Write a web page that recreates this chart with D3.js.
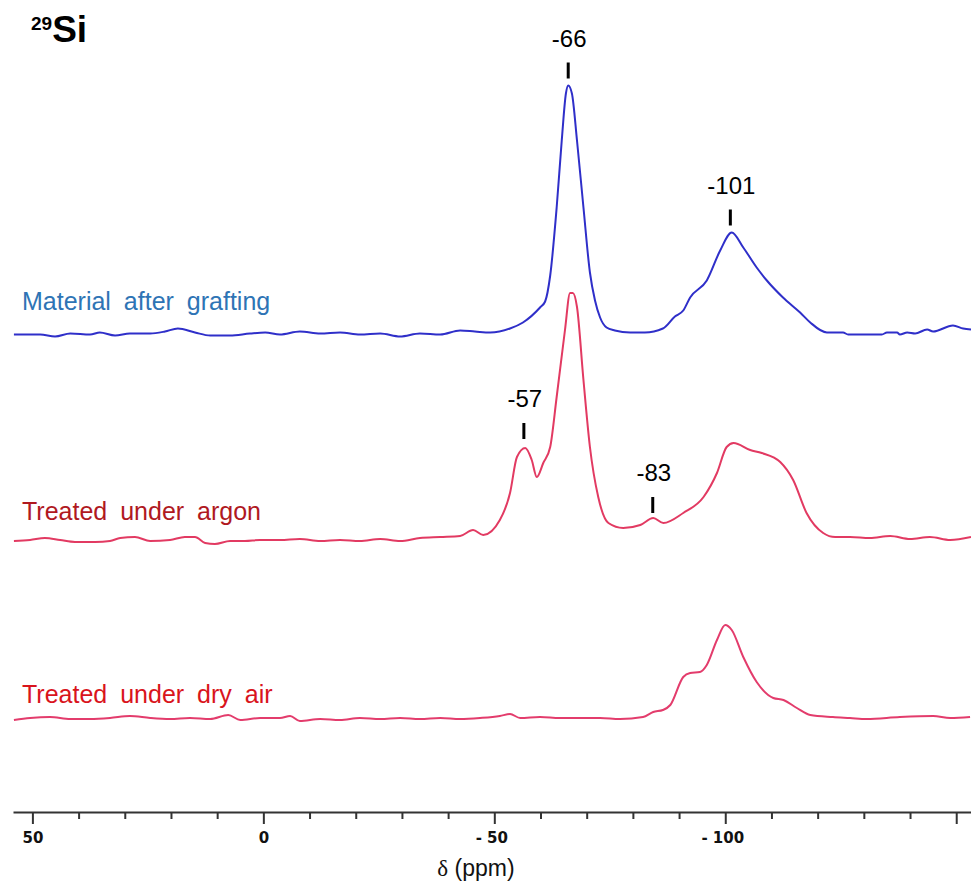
<!DOCTYPE html>
<html>
<head>
<meta charset="utf-8">
<script src="https://cdn.jsdelivr.net/npm/d3@7"></script>
<style>
  body { margin: 0; background: #fff; }
  svg { display: block; }
</style>
</head>
<body>
<script>
// 29Si NMR spectra, stacked

// chemical shift (ppm) and intensity above each trace's own baseline
var graftedPpm = [54.0, 48.3, 45.1, 41.8, 37.5, 35.4, 32.1, 28.9, 24.5, 21.3, 18.5, 14.8, 11.5, 7.2, 2.9, -0.4, -3.6, -7.9, -12.3, -16.6, -20.9, -25.3, -29.6, -33.9, -38.3, -42.6, -45.8, -49.1, -53.4, -56.2, -59.9, -61.0, -62.1, -63.5, -64.6, -65.5, -66.0, -66.8, -67.9, -69.3, -70.7, -71.8, -72.9, -74.3, -76.1, -79.4, -82.6, -86.5, -89.1, -90.9, -92.4, -96.0, -98.9, -101.4, -103.9, -106.8, -109.0, -112.5, -116.2, -118.4, -122.0, -125.5, -126.6, -133.9, -135.0, -137.2, -137.8, -139.4, -141.1, -143.7, -145.0, -149.3, -151.5, -153.2];
var graftedInt = [-1, -1, -3, 0, -1, 1, -2, 0, 0, 2, 5, 1, -2, -2, 0, 1, -1, 2, 0, 1, -1, 0, -3, 0, -1, 3, 2, 1, 5, 11, 26, 32, 58, 126, 193, 240, 248, 240, 193, 126, 61, 33, 16, 6, 3, 1, 1, 5, 17, 23, 36, 53, 83, 101, 86, 66, 53, 36, 21, 11, 1, 1, -1, -1, 1, 1, -1, 1, 0, 4, 2, 8, 5, 4];

var argonPpm = [54.0, 50.5, 47.3, 44.0, 40.8, 36.4, 33.2, 31.0, 27.8, 24.5, 20.2, 17.0, 14.8, 12.6, 10.5, 7.2, 4.0, 0.7, -3.6, -7.9, -12.3, -16.6, -20.9, -25.3, -29.6, -33.9, -38.3, -42.6, -45.4, -47.6, -51.2, -53.4, -54.9, -56.7, -58.1, -59.2, -60.6, -62.1, -63.5, -65.3, -66.4, -67.0, -67.9, -69.3, -70.7, -72.5, -74.7, -77.9, -81.6, -84.4, -86.6, -90.9, -95.3, -98.2, -100.3, -101.8, -105.4, -107.9, -111.9, -114.7, -117.6, -121.2, -123.8, -127.0, -131.3, -135.7, -140.0, -144.3, -148.7, -153.2];
var argonInt = [-1, 0, 2, 0, -2, -2, -1, 2, 3, -1, 0, 3, 3, -3, -4, -1, -1, 0, 0, 1, -1, 0, -1, 1, -1, 2, 3, 4, 10, 5, 20, 47, 83, 92, 80, 63, 77, 93, 143, 210, 247, 247, 233, 160, 93, 43, 17, 12, 15, 22, 17, 27, 43, 67, 93, 97, 90, 87, 78, 60, 27, 7, 3, 3, 2, 4, 1, 3, 0, 3];

var dryAirPpm = [54.0, 50.5, 46.2, 41.8, 37.5, 33.2, 28.9, 24.5, 20.2, 15.9, 11.5, 7.6, 5.0, 0.7, -3.6, -5.8, -7.9, -12.3, -16.6, -20.9, -25.3, -29.6, -33.9, -38.3, -42.6, -46.9, -51.2, -53.4, -55.6, -59.9, -64.2, -68.6, -72.9, -77.2, -82.2, -84.4, -86.5, -88.1, -90.9, -92.4, -94.5, -96.0, -98.2, -100.0, -101.4, -103.9, -106.8, -110.4, -112.6, -115.5, -118.4, -123.3, -127.0, -130.6, -137.8, -145.0, -148.7, -153.0];
var dryAirInt = [-2, 0, 1, -1, -1, 0, 2, 0, -1, 0, -1, 3, -2, 0, 0, 2, -3, -1, -2, 0, -1, 0, -1, 0, -1, 0, 2, 4, 0, 1, 0, 0, 0, -1, 1, 6, 8, 13, 41, 45, 46, 53, 78, 93, 88, 61, 36, 20, 18, 10, 3, 1, 0, -1, 1, 2, 0, 1];

var trackNames = ["Material after grafting", "Treated under argon", "Treated under dry air"];
var trackOffsets = [478.5, 272, 94];      // stacking offset of each trace, intensity units
var lineColors = ["#2f2fc9", "#e23a62", "#e33c6c"];
var labelColors = ["#2e74b5", "#b0191f", "#d9141c"];
var labelLift = [24, 20, 15];

// peak labels: text, where the marker sits (ppm), trace index, level of marker foot
var peakText = ["-66", "-101", "-57", "-83"];
var peakAt = [-66.0, -101.1, -56.4, -84.3];
var peakTrack = [0, 0, 1, 1];
var peakLevel = [255, 108, 101, 27];

var xTicks = d3.range(50, -151, -10);
var xLabelled = [50, 0, -50, -100];

var width = 971, height = 882;
var axisY = 812;

var svg = d3.select("body").append("svg")
    .attr("width", width)
    .attr("height", height);

var x = d3.scaleLinear().domain([54.2, -153.2]).range([13, 971]);
var y = d3.scaleLinear().domain([0, 800]).range([axisY, 12]);

var series = [
    d3.zip(graftedPpm, graftedInt),
    d3.zip(argonPpm, argonInt),
    d3.zip(dryAirPpm, dryAirInt)
];

// traces
series.forEach(function (data, i) {
    var line = d3.line()
        .x(d => x(d[0]))
        .y(d => y(d[1] + trackOffsets[i]))
        .curve(d3.curveMonotoneX);

    svg.append("path")
        .datum(data)
        .attr("fill", "none")
        .attr("stroke", lineColors[i])
        .attr("stroke-width", 2)
        .attr("stroke-linejoin", "round")
        .attr("d", line);

    svg.append("text")
        .attr("x", 22)
        .attr("y", y(trackOffsets[i] + labelLift[i]))
        .attr("fill", labelColors[i])
        .attr("font-family", "Liberation Sans, Arial, sans-serif")
        .attr("font-size", 25)
        .attr("word-spacing", 6)
        .text(trackNames[i]);
});

// peak markers
peakText.forEach(function (t, i) {
    var px = x(peakAt[i]);
    var foot = y(trackOffsets[peakTrack[i]] + peakLevel[i]);
    svg.append("line")
        .attr("x1", px).attr("x2", px)
        .attr("y1", foot).attr("y2", foot - 16)
        .attr("stroke", "#000")
        .attr("stroke-width", 3);
    svg.append("text")
        .attr("x", px + 1)
        .attr("y", foot - 32)
        .attr("text-anchor", "middle")
        .attr("font-family", "Liberation Sans, Arial, sans-serif")
        .attr("font-size", 24)
        .attr("fill", "#000")
        .text(t);
});

// axis
var xAxis = d3.axisBottom(x)
    .tickValues(xTicks)
    .tickSizeOuter(0)
    .tickFormat(d => xLabelled.indexOf(d) < 0 ? "" : (d < 0 ? "- " + (-d) : d));

var gX = svg.append("g")
    .attr("transform", `translate(0,${axisY})`)
    .call(xAxis);

gX.select(".domain")
    .attr("stroke", "#333")
    .attr("stroke-width", 2);
gX.selectAll(".tick line")
    .attr("stroke", "#333")
    .attr("stroke-width", 2)
    .attr("y2", d => d % 50 === 0 ? 12 : 7);
gX.selectAll(".tick text")
    .attr("y", 20)
    .attr("dx", d => d < 0 ? "-0.2em" : 0)
    .attr("font-family", "DejaVu Sans, sans-serif")
    .attr("font-weight", "bold")
    .attr("font-size", 15)
    .attr("fill", "#111");

svg.append("text")
    .attr("x", 476)
    .attr("y", 876)
    .attr("text-anchor", "middle")
    .attr("font-family", "Liberation Sans, Arial, sans-serif")
    .attr("font-size", 23)
    .attr("fill", "#111")
    .call(t => t.append("tspan").attr("font-family", "Liberation Serif, serif").text("δ"))
    .call(t => t.append("tspan").text(" (ppm)"));

// title
var title = svg.append("text")
    .attr("x", 31)
    .attr("y", 42)
    .attr("font-family", "Liberation Sans, Arial, sans-serif")
    .attr("font-weight", "bold")
    .attr("fill", "#000");
title.append("tspan").attr("font-size", 19).attr("dy", -12).text("29");
title.append("tspan").attr("font-size", 37).attr("dy", 12).text("Si");
</script>
</body>
</html>
